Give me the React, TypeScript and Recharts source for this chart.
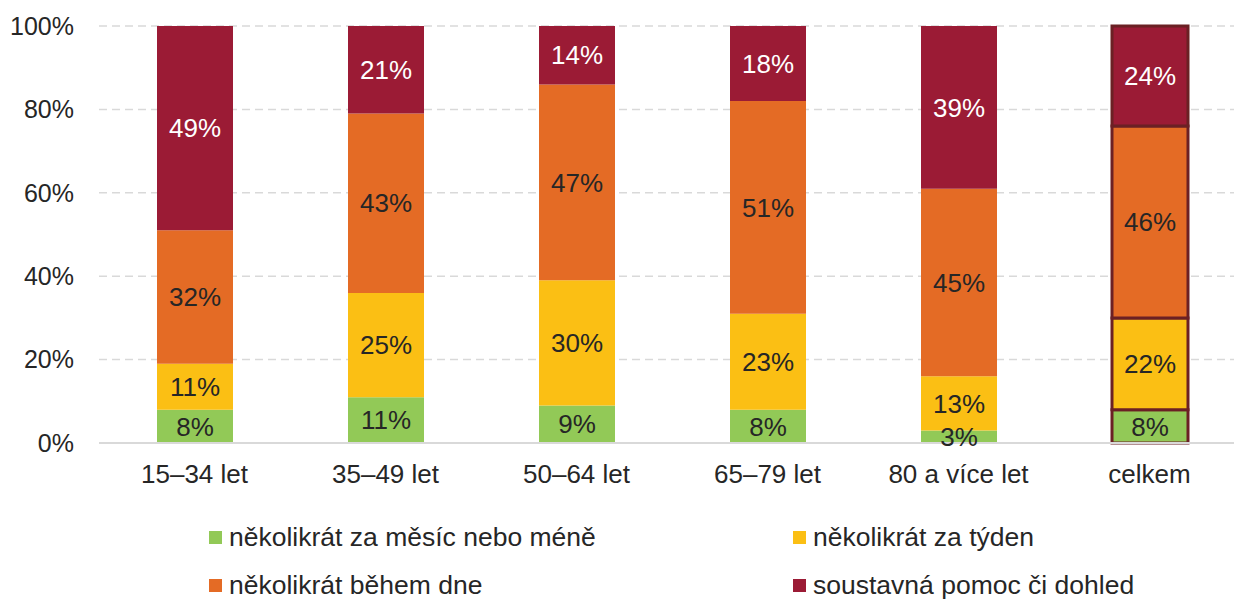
import { Bar, BarChart, CartesianGrid, Cell, LabelList, XAxis, YAxis } from "recharts";

const categories = ["15–34 let", "35–49 let", "50–64 let", "65–79 let", "80 a více let", "celkem"];
const monthly = [8, 11, 9, 8, 3, 8];
const weekly = [11, 25, 30, 23, 13, 22];
const daily = [32, 43, 47, 51, 45, 46];
const constant = [49, 21, 14, 18, 39, 24];
const yTicks = [0, 20, 40, 60, 80, 100];

const series = [
  { key: "monthly", name: "několikrát za měsíc nebo méně", values: monthly, color: "#92c957", label: "#262626" },
  { key: "weekly", name: "několikrát za týden", values: weekly, color: "#fbbf14", label: "#262626" },
  { key: "daily", name: "několikrát během dne", values: daily, color: "#e46b25", label: "#262626" },
  { key: "constant", name: "soustavná pomoc či dohled", values: constant, color: "#9b1b35", label: "#ffffff" },
];

// legend slots: first column / second column, two rows
const legendSpots = [
  { left: 209, top: 524 },
  { left: 793, top: 524 },
  { left: 209, top: 572 },
  { left: 793, top: 572 },
];

const data = categories.map((cat, i) => {
  const row: Record<string, string | number> = { cat };
  series.forEach((s) => {
    row[s.key] = s.values[i];
  });
  return row;
});

const font = "'Liberation Sans', Arial, sans-serif";

export default function App() {
  return (
    <div style={{ position: "absolute", left: 0, top: 0, width: 1234, height: 599, overflow: "hidden", background: "#fff", fontFamily: font }}>
      <BarChart width={1260} height={500} data={data} margin={{ top: 26, right: 15, left: 0, bottom: 0 }} barSize={76}>
        <CartesianGrid vertical={false} stroke="#d9d9d9" strokeDasharray="8 5" strokeWidth={1.5} />
        <XAxis
          dataKey="cat"
          height={57}
          tickLine={false}
          tickMargin={16}
          axisLine={{ stroke: "#d9d9d9", strokeWidth: 2 }}
          tick={{ fill: "#262626", fontSize: 26, fontFamily: font }}
          interval={0}
        />
        <YAxis
          width={99}
          domain={[0, 100]}
          ticks={yTicks}
          tickFormatter={(v) => `${v}%`}
          axisLine={false}
          tickLine={false}
          tickMargin={19}
          tick={{ fill: "#262626", fontSize: 25, fontFamily: font }}
        />
        {series.map((s) => (
          <Bar key={s.key} dataKey={s.key} name={s.name} stackId="a" fill={s.color} isAnimationActive={false}>
            {data.map((_, i) => (
              <Cell
                key={i}
                fill={s.color}
                stroke={i === data.length - 1 ? "#6b2024" : "none"}
                strokeWidth={i === data.length - 1 ? 3 : 0}
              />
            ))}
            <LabelList
              dataKey={s.key}
              position="center"
              formatter={(v) => `${v}%`}
              style={{ fill: s.label, fontSize: 26, fontFamily: font }}
            />
          </Bar>
        ))}
      </BarChart>
      {series.map((s, i) => (
        <div
          key={s.key}
          style={{
            position: "absolute",
            left: legendSpots[i].left,
            top: legendSpots[i].top,
            height: 26,
            display: "flex",
            alignItems: "center",
            fontSize: 26.5,
            lineHeight: "26px",
            color: "#262626",
            whiteSpace: "nowrap",
          }}
        >
          <span style={{ display: "inline-block", width: 13, height: 13, background: s.color, marginRight: 7, flexShrink: 0 }} />
          {s.name}
        </div>
      ))}
    </div>
  );
}
